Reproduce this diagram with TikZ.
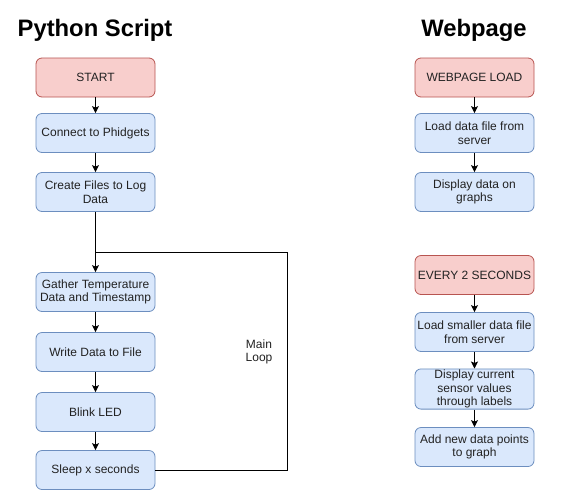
\documentclass[tikz,border=0pt]{standalone}
\usepackage{fontspec}
\setmainfont{Liberation Sans}
\usetikzlibrary{arrows.meta}
\definecolor{redfill}{HTML}{F8CECC}
\definecolor{redline}{HTML}{B85450}
\definecolor{bluefill}{HTML}{DAE8FC}
\definecolor{blueline}{HTML}{6C8EBF}
\definecolor{txt}{HTML}{222222}
\begin{document}
\begin{tikzpicture}[x=1pt,y=-1pt,
  box/.style={draw, rounded corners=6pt, minimum width=119pt, minimum height=39pt,
    align=center, inner sep=1pt, line width=0.8pt,
    font=\fontsize{12}{13.5}\selectfont, text=txt},
  redbox/.style={box, fill=redfill, draw=redline},
  bluebox/.style={box, fill=bluefill, draw=blueline},
  title/.style={font=\fontsize{23.8}{26}\selectfont\bfseries},
  arr/.style={-{Stealth[length=7pt,width=7pt,inset=1.5pt]}, line width=0.9pt},
  lbl/.style={font=\fontsize{12}{13.5}\selectfont, align=center, text=txt}]
\useasboundingbox (0,0) rectangle (570,491);
\fill[white] (0,0) rectangle (570,491);
% titles
\node[title] (t1) at (95,30) {Python Script};
\node[title] (t2) at (474,30) {Webpage};
% left column
\node[redbox]  (start) at (95.5,77.5) {START};
\node[bluebox] (conn)  at (95.5,133) {Connect to Phidgets};
\node[bluebox] (create) at (95.5,192) {Create Files to Log\\Data};
\node[bluebox] (gather) at (95.5,292) {Gather Temperature\\Data and Timestamp};
\node[bluebox] (write) at (95.5,352) {Write Data to File};
\node[bluebox] (blink) at (95.5,412) {Blink LED};
\node[bluebox] (sleep) at (95.5,470) {Sleep x seconds};
\draw[arr] (start) -- (conn);
\draw[arr] (conn) -- (create);
\draw[arr] (create) -- (gather);
\draw[arr] (gather) -- (write);
\draw[arr] (write) -- (blink);
\draw[arr] (blink) -- (sleep);
\coordinate (lr) at (287,470);
\coordinate (ur) at (287,252);
\coordinate (jn) at (95.5,252);
\draw[line width=0.9pt] (sleep.east) -- (lr) -- (ur) -- (jn);
\node[lbl] (ml) at (259,352) {Main\\Loop};
% right column
\node[redbox]  (wl) at (474.5,77.5) {WEBPAGE LOAD};
\node[bluebox] (ld) at (474.5,133) {Load data file from\\server};
\node[bluebox] (dd) at (474.5,192) {Display data on\\graphs};
\draw[arr] (wl) -- (ld);
\draw[arr] (ld) -- (dd);
\node[redbox]  (e2) at (474.5,275) {EVERY 2 SECONDS};
\node[bluebox] (ls) at (474.5,332) {Load smaller data file\\from server};
\node[bluebox] (dc) at (474.5,389) {Display current\\sensor values\\through labels};
\node[bluebox] (an) at (474.5,447) {Add new data points\\to graph};
\draw[arr] (e2) -- (ls);
\draw[arr] (ls) -- (dc);
\draw[arr] (dc) -- (an);
\end{tikzpicture}
\end{document}
